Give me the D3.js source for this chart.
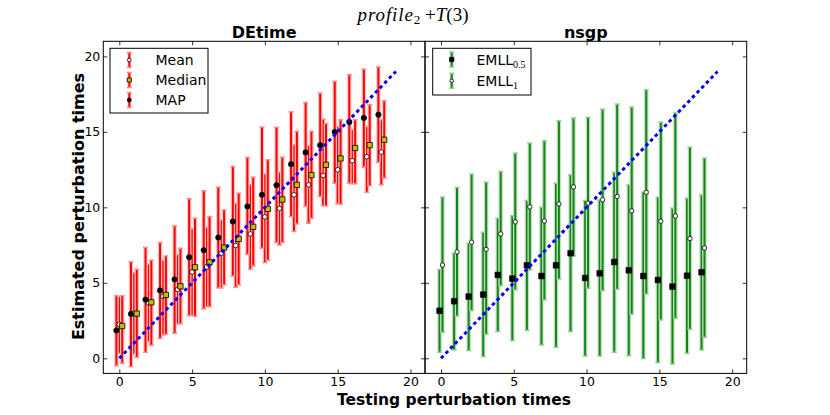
<!DOCTYPE html>
<html>
<head>
<meta charset="utf-8">
<script src="https://cdn.jsdelivr.net/npm/d3@7/dist/d3.min.js"></script>
<style>
  body { margin: 0; background: #fff; }
</style>
</head>
<body>
<svg id="chart" width="830" height="415"></svg>
<script>
'use strict'

// testing perturbation times (x categories)
const times = [0, 1, 2, 3, 4, 5, 6, 7, 8, 9, 10, 11, 12, 13, 14, 15, 16, 17, 18]
const xTicks = [0, 5, 10, 15, 20]
const yTicks = [0, 5, 10, 15, 20]
const diagonal = [0, 19]

// DEtime panel
const mapVal = [1.85, 2.94, 3.89, 4.5, 5.23, 6.69, 7.16, 8.0, 9.06, 10.06, 10.83, 11.47, 12.86, 13.64, 14.12, 14.99, 15.65, 15.92, 16.14]
const mapLo = [-0.49, -0.55, 0.4, 1.32, 1.66, 2.83, 3.27, 4.66, 5.45, 6.89, 7.3, 7.67, 9.39, 10.06, 10.72, 11.6, 11.6, 12.67, 12.98]
const mapHi = [4.15, 6.4, 7.34, 7.67, 8.77, 10.57, 11.1, 11.34, 12.71, 13.31, 15.32, 15.3, 16.33, 16.95, 17.57, 18.35, 18.79, 19.16, 19.3]

const meanVal = [2.25, 2.98, 3.67, 4.11, 4.57, 5.72, 6.05, 6.96, 7.47, 8.24, 9.37, 9.92, 10.83, 11.49, 12.11, 12.49, 13.09, 13.35, 13.66]
const meanLo = [0.33, 0.28, 1.1, 1.54, 2.28, 2.83, 3.42, 4.66, 4.7, 5.9, 6.34, 7.5, 8.4, 8.95, 10.1, 10.23, 11.56, 10.99, 11.49]
const meanHi = [4.09, 5.67, 6.23, 6.5, 6.87, 8.6, 8.68, 9.17, 10.28, 11.5, 12.22, 12.33, 14.15, 14.08, 15.85, 15.36, 15.14, 15.36, 15.8]

const medVal = [2.14, 2.96, 3.71, 4.2, 4.77, 6.03, 6.36, 7.34, 7.91, 8.71, 9.9, 10.52, 11.49, 12.14, 12.82, 13.24, 13.93, 14.12, 14.48]
const medLo = [-0.33, 0.06, 0.86, 1.59, 2.28, 2.78, 3.42, 4.86, 4.86, 6.12, 6.5, 7.67, 8.9, 9.28, 10.1, 10.2, 11.56, 11.43, 11.94]
const medHi = [4.15, 5.9, 6.5, 6.78, 7.29, 9.28, 9.39, 9.83, 10.94, 12.0, 13.15, 13.33, 15.03, 15.03, 15.54, 15.8, 15.8, 16.8, 17.06]

// nsgp panel
const emll05Val = [3.15, 3.78, 4.09, 4.22, 5.52, 5.28, 6.16, 5.45, 6.16, 6.96, 5.32, 5.63, 6.38, 5.83, 5.45, 5.19, 4.75, 5.47, 5.7]
const emll05Lo = [0.4, 0.55, 0.51, 0.11, 1.77, 1.17, 1.85, 0.88, 0.73, 1.77, 0.15, 0.15, 0.4, 0.17, -0.02, -0.29, -0.38, 0.33, 0.55]
const emll05Hi = [5.89, 6.96, 7.62, 8.35, 9.28, 9.44, 10.46, 10.01, 11.6, 12.16, 10.46, 10.5, 12.33, 11.49, 11.0, 10.68, 9.95, 10.61, 10.83]

const emll1Val = [6.18, 7.05, 7.69, 7.22, 8.24, 9.04, 10.03, 9.1, 10.23, 11.36, 10.28, 10.5, 10.72, 9.77, 11.0, 9.08, 9.43, 7.93, 7.31]
const emll1Lo = [1.72, 2.8, 3.16, 1.59, 4.81, 4.53, 5.85, 3.87, 5.25, 6.78, 4.64, 4.48, 4.57, 2.92, 4.26, 2.54, 2.65, 1.92, 1.39]
const emll1Hi = [10.68, 11.32, 12.2, 11.67, 12.38, 13.59, 14.26, 14.41, 15.74, 15.92, 15.96, 16.51, 16.84, 16.64, 17.79, 15.65, 16.25, 13.99, 13.26]

const FONT = 'DejaVu Sans, Verdana, sans-serif'
const SERIF = 'Liberation Serif, DejaVu Serif, serif'
const svg = d3.select('#chart')
svg.append('rect').attr('width', 830).attr('height', 415).attr('fill', '#fff')

const y = d3.scaleLinear().domain([-1, 21]).range([373.4, 41.3])

const panels = [
  { title: 'DEtime', x: d3.scaleLinear().domain([-1.1, 21]).range([103.3, 425]), yLabels: true },
  { title: 'nsgp', x: d3.scaleLinear().domain([-1.1, 21]).range([425, 746.7]), yLabels: false }
]

const red = { bar: '#ff0000', halo: '#ffc4c4', cap: '#ff8c8c' }
const green = { bar: '#118811', halo: '#c4dcc4', cap: '#8fcf8f' }

function drawAxes (g, x, yLabels) {
  const [x0, x1] = x.range()
  const [yb, yt] = y.range()
  const styleAxis = sel => {
    sel.select('.domain').remove()
    sel.selectAll('line').attr('stroke', '#000').attr('stroke-width', 0.8)
    sel.selectAll('text').attr('font-family', FONT).attr('font-size', 12.5).attr('fill', '#000')
  }
  g.append('g').attr('transform', `translate(0,${yb})`)
    .call(d3.axisBottom(x).tickValues(xTicks).tickSize(-4).tickPadding(4).tickFormat(d3.format('d')))
    .call(styleAxis)
  g.append('g').attr('transform', `translate(0,${yt})`)
    .call(d3.axisTop(x).tickValues(xTicks).tickSize(-4).tickFormat(''))
    .call(styleAxis)
  g.append('g').attr('transform', `translate(${x0},0)`)
    .call(d3.axisLeft(y).tickValues(yTicks).tickSize(-4).tickPadding(3).tickFormat(yLabels ? d3.format('d') : ''))
    .call(styleAxis)
  g.append('g').attr('transform', `translate(${x1},0)`)
    .call(d3.axisRight(y).tickValues(yTicks).tickSize(-4).tickFormat(''))
    .call(styleAxis)
  g.append('rect')
    .attr('x', x0).attr('y', yt).attr('width', x1 - x0).attr('height', yb - yt)
    .attr('fill', 'none').attr('stroke', '#000').attr('stroke-width', 1)
}

function seriesData (offset, vals, los, his) {
  return times.map((t, i) => ({ t: t + offset, v: vals[i], lo: los[i], hi: his[i] }))
}

function drawBars (g, x, data, colors) {
  const s = g.append('g')
  s.selectAll('line.halo').data(data).join('line').attr('class', 'halo')
    .attr('x1', d => x(d.t)).attr('x2', d => x(d.t))
    .attr('y1', d => y(d.lo)).attr('y2', d => y(d.hi))
    .attr('stroke', colors.halo).attr('stroke-width', 4.5)
  s.selectAll('line.bar').data(data).join('line').attr('class', 'bar')
    .attr('x1', d => x(d.t)).attr('x2', d => x(d.t))
    .attr('y1', d => y(d.lo)).attr('y2', d => y(d.hi))
    .attr('stroke', colors.bar).attr('stroke-width', 2)
  const caps = data.flatMap(d => [{ t: d.t, v: d.lo }, { t: d.t, v: d.hi }])
  s.selectAll('line.cap').data(caps).join('line').attr('class', 'cap')
    .attr('x1', d => x(d.t) - 2.5).attr('x2', d => x(d.t) + 2.5)
    .attr('y1', d => y(d.v)).attr('y2', d => y(d.v))
    .attr('stroke', colors.cap).attr('stroke-width', 1.5)
}

function drawMarkers (g, x, data, m) {
  g.append('g').selectAll('path').data(data).join('path')
    .attr('d', d3.symbol(m.type, m.size))
    .attr('transform', d => `translate(${x(d.t)},${y(d.v)})`)
    .attr('fill', m.fill).attr('stroke', m.stroke).attr('stroke-width', m.sw)
}

function drawDiagonal (g, x) {
  g.append('path')
    .datum(diagonal)
    .attr('d', d3.line().x(d => x(d)).y(d => y(d)))
    .attr('fill', 'none').attr('stroke', '#0000ff').attr('stroke-width', 3)
    .attr('stroke-dasharray', '3.5,3.2')
}

function legendIcon (g, cx, cy, colors, m) {
  g.append('line').attr('x1', cx).attr('x2', cx).attr('y1', cy - 7.5).attr('y2', cy + 7.5)
    .attr('stroke', colors.halo).attr('stroke-width', 4)
  g.append('line').attr('x1', cx).attr('x2', cx).attr('y1', cy - 7.5).attr('y2', cy + 7.5)
    .attr('stroke', colors.bar).attr('stroke-width', 2)
  ;[cy - 7.5, cy + 7.5].forEach(v => {
    g.append('line').attr('x1', cx - 2.5).attr('x2', cx + 2.5).attr('y1', v).attr('y2', v)
      .attr('stroke', colors.cap).attr('stroke-width', 1.5)
  })
  g.append('path').attr('d', d3.symbol(m.type, m.size * 0.6))
    .attr('transform', `translate(${cx},${cy})`)
    .attr('fill', m.fill).attr('stroke', m.stroke).attr('stroke-width', m.sw)
}

const mkMAP = { type: d3.symbolCircle, size: 23, fill: '#000', stroke: '#000', sw: 0.6 }
const mkMean = { type: d3.symbolCircle, size: 17, fill: '#fff', stroke: '#000', sw: 0.8 }
const mkMedian = { type: d3.symbolSquare, size: 28, fill: '#bfbf00', stroke: '#000', sw: 0.8 }
const mkE05 = { type: d3.symbolSquare, size: 32, fill: '#000', stroke: '#000', sw: 0.6 }
const mkE1 = { type: d3.symbolCircle, size: 15, fill: '#fff', stroke: '#000', sw: 0.8 }

// ---- left panel: DEtime
const left = panels[0]
const gL = svg.append('g')
const meanData = seriesData(0, meanVal, meanLo, meanHi)
const medData = seriesData(0.2, medVal, medLo, medHi)
const mapData = seriesData(-0.2, mapVal, mapLo, mapHi)
drawBars(gL, left.x, meanData, red)
drawBars(gL, left.x, medData, red)
drawBars(gL, left.x, mapData, red)
drawMarkers(gL, left.x, meanData, mkMean)
drawMarkers(gL, left.x, medData, mkMedian)
drawMarkers(gL, left.x, mapData, mkMAP)
drawDiagonal(gL, left.x)
drawAxes(gL, left.x, true)

// ---- right panel: nsgp
const right = panels[1]
const gR = svg.append('g')
const e05Data = seriesData(-0.1, emll05Val, emll05Lo, emll05Hi)
const e1Data = seriesData(0.1, emll1Val, emll1Lo, emll1Hi)
drawBars(gR, right.x, e05Data, green)
drawBars(gR, right.x, e1Data, green)
drawMarkers(gR, right.x, e05Data, mkE05)
drawMarkers(gR, right.x, e1Data, mkE1)
drawDiagonal(gR, right.x)
drawAxes(gR, right.x, false)

// ---- panel titles
panels.forEach(p => {
  const [x0, x1] = p.x.range()
  svg.append('text').attr('x', (x0 + x1) / 2).attr('y', 38)
    .attr('text-anchor', 'middle').attr('font-family', FONT)
    .attr('font-size', 16).attr('font-weight', 'bold').text(p.title)
})

// ---- legends
const legL = svg.append('g')
legL.append('rect').attr('x', 110).attr('y', 48.3).attr('width', 98).attr('height', 64.7)
  .attr('fill', '#fff').attr('stroke', '#000').attr('stroke-width', 1)
const leftEntries = [['Mean', mkMean], ['Median', mkMedian], ['MAP', mkMAP]]
leftEntries.forEach(([label, m], i) => {
  const cy = 60 + i * 20
  legendIcon(legL, 129.3, cy, red, m)
  legL.append('text').attr('x', 155.5).attr('y', cy + 5)
    .attr('font-family', FONT).attr('font-size', 14).text(label)
})

const legR = svg.append('g')
legR.append('rect').attr('x', 432.7).attr('y', 48.3).attr('width', 98.3).attr('height', 46.7)
  .attr('fill', '#fff').attr('stroke', '#000').attr('stroke-width', 1)
const rightEntries = [['0.5', mkE05], ['1', mkE1]]
rightEntries.forEach(([sub, m], i) => {
  const cy = 59.5 + i * 21.3
  legendIcon(legR, 451.7, cy, green, m)
  const t = legR.append('text').attr('x', 476.5).attr('y', cy + 5)
    .attr('font-family', FONT).attr('font-size', 14)
  t.append('tspan').text('EMLL')
  t.append('tspan').attr('dy', 3.5).attr('font-size', 10)
    .attr('font-family', SERIF).text(sub)
})

// ---- figure title (math text)
const title = svg.append('text').attr('x', 413).attr('y', 20.5).attr('text-anchor', 'middle')
  .attr('font-family', SERIF).attr('font-size', 19)
title.append('tspan').attr('font-style', 'italic').attr('letter-spacing', 0.9).text('profile')
title.append('tspan').attr('font-size', 13).attr('dy', 3.5).text('2')
title.append('tspan').attr('dy', -3.5).text(' +')
title.append('tspan').attr('font-style', 'italic').text('T')
title.append('tspan').text('(3)')

// ---- axis labels
svg.append('text').attr('x', 454).attr('y', 404.5).attr('text-anchor', 'middle')
  .attr('font-family', FONT).attr('font-size', 15.5).attr('font-weight', 'bold')
  .text('Testing perturbation times')
svg.append('text').attr('transform', 'translate(83.5,206.5) rotate(-90)').attr('text-anchor', 'middle')
  .attr('font-family', FONT).attr('font-size', 16).attr('font-weight', 'bold')
  .text('Estimated perturbation times')
</script>
</body>
</html>
